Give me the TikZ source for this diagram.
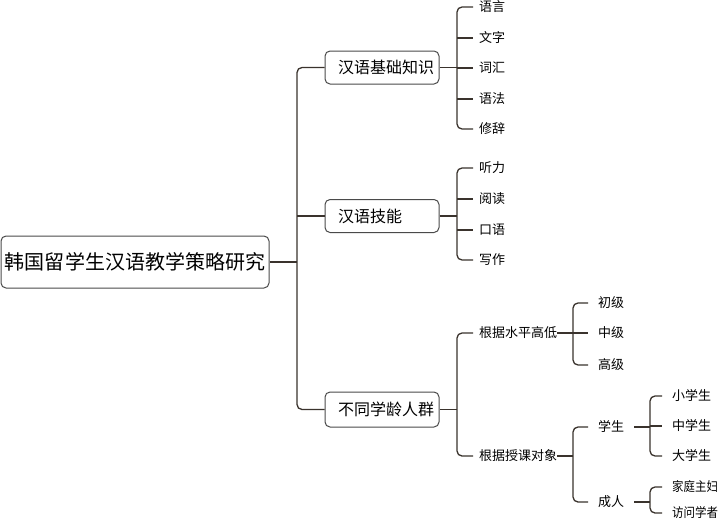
\documentclass[tikz,border=0pt]{standalone}
\usepackage{fontspec}
\setmainfont{Noto Sans CJK SC}
\definecolor{linec}{HTML}{3A332D}
\definecolor{boxc}{HTML}{4A4A4A}
\begin{document}
\begin{tikzpicture}[x=1pt,y=-1pt,
  rootbox/.style={draw=boxc, line width=1pt, rounded corners=5pt, fill=white,
    minimum width=268pt, minimum height=52pt, inner sep=0pt,
    font=\fontsize{20}{20}\selectfont, text height=17.6pt, text depth=2.4pt},
  lonebox/.style={draw=boxc, line width=1pt, rounded corners=5pt, fill=white,
    text width=88pt, align=left, inner xsep=13pt, inner ysep=0pt, minimum height=33pt,
    font=\fontsize{16}{16}\selectfont, text height=14.1pt, text depth=1.9pt},
  leaf/.style={anchor=west, inner xsep=6pt, inner ysep=0pt,
    font=\fontsize{13}{13}\selectfont, text height=11.4pt, text depth=1.6pt},
  leafb/.style={leaf, inner xsep=10pt},
  conn/.style={draw=linec, line width=1.3pt, rounded corners=5pt}]
\useasboundingbox (0,0) rectangle (719,522);
\fill[white] (0,0) rectangle (719,522);
% nodes
\node[rootbox] (root) at (135,262) {韩国留学生汉语教学策略研究};
\node[lonebox] (k1) at (382,67.5) {汉语基础知识};
\node[lonebox] (k2) at (382,216) {汉语技能};
\node[lonebox, minimum height=35pt] (k3) at (382,409.5) {不同学龄人群};
\node[leaf] (a1) at (473,7) {语言};
\node[leaf] (a2) at (473,38) {文字};
\node[leaf] (a3) at (473,68) {词汇};
\node[leaf] (a4) at (473,99) {语法};
\node[leaf] (a5) at (473,129) {修辞};
\node[leaf] (b1) at (473,168) {听力};
\node[leaf] (b2) at (473,199) {阅读};
\node[leaf] (b3) at (473,230) {口语};
\node[leaf] (b4) at (473,260) {写作};
\node[leaf] (c1) at (473,333) {根据水平高低};
\node[leaf] (c2) at (473,456) {根据授课对象};
\node[leafb] (d1) at (588,303) {初级};
\node[leafb] (d2) at (588,333) {中级};
\node[leafb] (d3) at (588,365) {高级};
\node[leafb] (e1) at (588,427) {学生};
\node[leafb] (e2) at (588,502) {成人};
\node[leafb] (f1) at (662,396) {小学生};
\node[leafb] (f2) at (662,426) {中学生};
\node[leafb] (f3) at (662,456) {大学生};
\node[leafb] (g1) at (662,487) {\scalebox{0.88}[1]{家庭主妇}};
\node[leafb] (g2) at (662,513) {\scalebox{0.88}[1]{访问学者}};
% junctions
\coordinate (j0) at (297,262);
\coordinate (j1) at (457,67.5);
\coordinate (j2) at (457,216);
\coordinate (j3) at (457,409.5);
\coordinate (j4) at (573,333);
\coordinate (j5) at (573,456);
\coordinate (j6) at (650,427);
\coordinate (j7) at (650,502);
% connectors
\draw[conn] (root.east) -- (j0);
\draw[conn] (k1.west) -| (j0) |- (k3.west);
\draw[conn] (j0 |- k2.west) -- (k2.west);
\draw[conn] (k1.east) -- (j1);
\draw[conn] (a1.west) -| (j1) |- (a5.west);
\draw[conn] (j1 |- a2.west) -- (a2.west);
\draw[conn] (j1 |- a3.west) -- (a3.west);
\draw[conn] (j1 |- a4.west) -- (a4.west);
\draw[conn] (k2.east) -- (j2);
\draw[conn] (b1.west) -| (j2) |- (b4.west);
\draw[conn] (j2 |- b2.west) -- (b2.west);
\draw[conn] (j2 |- b3.west) -- (b3.west);
\draw[conn] (k3.east) -- (j3);
\draw[conn] (c1.west) -| (j3) |- (c2.west);
\draw[conn] ([xshift=-6pt]c1.east) -- (j4);
\draw[conn] (d1.west) -| (j4) |- (d3.west);
\draw[conn] (j4 |- d2.west) -- (d2.west);
\draw[conn] ([xshift=-6pt]c2.east) -- (j5);
\draw[conn] (e1.west) -| (j5) |- (e2.west);
\draw[conn] (e1.east) -- (j6);
\draw[conn] (f1.west) -| (j6) |- (f3.west);
\draw[conn] (j6 |- f2.west) -- (f2.west);
\draw[conn] (e2.east) -- (j7);
\draw[conn] (g1.west) -| (j7) |- (g2.west);
\end{tikzpicture}
\end{document}
